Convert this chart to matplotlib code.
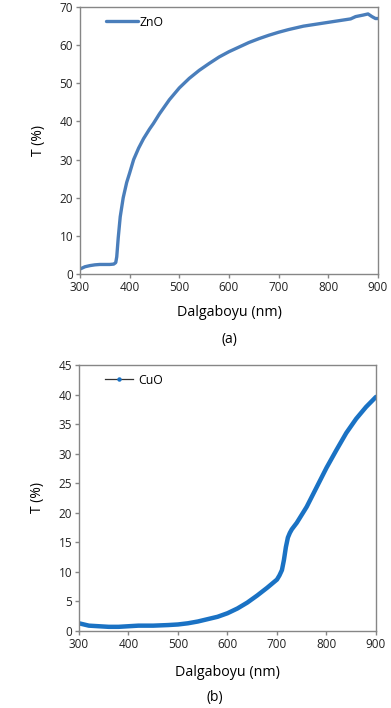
import matplotlib
matplotlib.use('Agg')
import matplotlib.pyplot as plt
from matplotlib.lines import Line2D

# ZnO transmittance
zno_wl = [300, 310, 320, 330, 340, 350, 360, 368, 372, 374, 377, 381, 387, 394, 400, 408,
          418, 428, 440, 448, 460, 480, 500, 520, 540, 560, 580, 600, 620, 640, 660, 680,
          700, 720, 740, 750, 760, 780, 800, 820, 835, 845, 855, 870, 880, 888, 895, 900]
zno_t = [1.3, 1.9, 2.2, 2.4, 2.5, 2.5, 2.5, 2.6, 3.0, 4.5, 9.5, 15.0, 20.0, 24.0, 26.5, 30.0,
         33.0, 35.5, 38.0, 39.5, 42.0, 45.7, 48.8, 51.3, 53.4, 55.2, 56.9, 58.3, 59.5, 60.7,
         61.7, 62.6, 63.4, 64.1, 64.7, 65.0, 65.2, 65.6, 66.0, 66.4, 66.7, 66.9, 67.5, 67.9,
         68.2, 67.5, 67.0, 67.0]

# CuO transmittance
cuo_wl = [300, 310, 320, 340, 360, 380, 400, 420, 450, 480, 500, 520, 540, 560, 580, 600,
          620, 640, 660, 680, 700, 705, 710, 714, 718, 722, 726, 730, 740, 760, 780, 800,
          820, 840, 860, 880, 900]
cuo_t = [1.3, 1.1, 0.9, 0.8, 0.7, 0.7, 0.8, 0.9, 0.9, 1.0, 1.1, 1.3, 1.6, 2.0, 2.4, 3.0,
         3.8, 4.8, 6.0, 7.3, 8.7, 9.4, 10.3, 12.0, 14.2, 15.8, 16.6, 17.2, 18.3, 21.0, 24.3,
         27.6, 30.6, 33.5, 35.9, 37.9, 39.6]

plt.rcParams['font.family'] = ['Open Sans', 'DejaVu Sans']

fig = plt.figure(figsize=(3.91, 7.08), dpi=100)
ax1 = fig.add_axes([0.2046, 0.613, 0.762, 0.377])
ax2 = fig.add_axes([0.202, 0.1088, 0.7596, 0.3757])

ax1.plot(zno_wl, zno_t, color='#4a7ebb', lw=2.4, solid_capstyle='round', label='ZnO')
ax2.plot(cuo_wl, cuo_t, color='#1a72c4', lw=3.2, solid_capstyle='round')

cuo_handle = Line2D([0], [0], color='#333333', lw=0.9, marker='o', markersize=2.2,
                    markerfacecolor='#1a72c4', markeredgecolor='#1a72c4')

for ax, ymax, ystep in [(ax1, 70, 10), (ax2, 45, 5)]:
    ax.set_xlim(300, 900)
    ax.set_ylim(0, ymax)
    ax.set_xticks(range(300, 901, 100))
    ax.set_yticks(range(0, ymax + 1, ystep))
    for s in ax.spines.values():
        s.set_color('#868686')
        s.set_linewidth(1.0)
    ax.tick_params(direction='out', length=3, width=1, color='#868686',
                   labelsize=8.5, labelcolor='#222222', pad=2)

ax1.legend(loc='upper left', frameon=False, fontsize=8.8, handlelength=2.6,
           handletextpad=0.1, borderaxespad=0.3, bbox_to_anchor=(0.06, 1.0))
ax2.legend([cuo_handle], ['CuO'], loc='upper left', frameon=False, fontsize=8.8,
           handlelength=2.3, handletextpad=0.4, borderaxespad=0.3, bbox_to_anchor=(0.06, 1.0))

ax1.set_ylabel('T (%)', fontsize=10, labelpad=10)
ax2.set_ylabel('T (%)', fontsize=10, labelpad=10)

fig.text(0.586, 1 - 313 / 708, 'Dalgaboyu (nm)', ha='center', va='center', fontsize=10.3)
fig.text(0.586, 1 - 340 / 708, '(a)', ha='center', va='center', fontsize=10)
fig.text(0.582, 1 - 673 / 708, 'Dalgaboyu (nm)', ha='center', va='center', fontsize=10.3)
fig.text(0.55, 1 - 698 / 708, '(b)', ha='center', va='center', fontsize=10)

fig.savefig('out.png', dpi=100)
